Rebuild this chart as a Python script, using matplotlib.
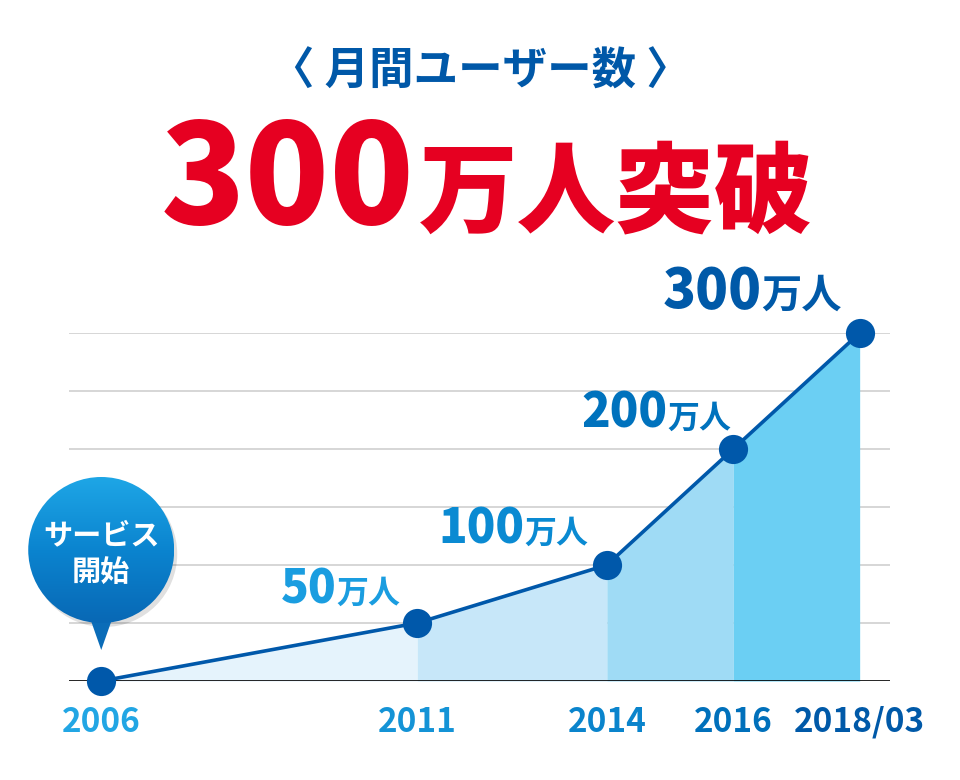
import numpy as np
import matplotlib
matplotlib.use("Agg")
import matplotlib.pyplot as plt
from matplotlib.patches import Circle, Polygon
from matplotlib.colors import LinearSegmentedColormap

plt.rcParams['font.family'] = ['Noto Sans CJK JP', 'DejaVu Sans']

# data
years = [2006, 2011, 2014, 2016, 2018]
year_labels = ["2006", "2011", "2014", "2016", "2018/03"]
users = [0, 50, 100, 200, 300]          # 万人
value_nums = ["", "50", "100", "200", "300"]

# styles
seg_colors = ["#e5f3fc", "#c7e7f9", "#9fdbf5", "#6bcff3"]
year_colors = ["#22a6e4", "#1493d6", "#0a84cc", "#0070bb", "#0059a8"]
val_colors = [None, "#1a9de0", "#0a8ad2", "#0072bd", "#0059a8"]
line_col = "#0058aa"
# label offsets (px) relative to point: split point between number and 万人, baseline
val_off = [None, (-81, 20), (-82, 22), (-66, 21), (-98, 25)]
num_size = [None, 33, 34, 34, 39]
kan_size = [None, 23, 23, 23, 29]

W, H = 960, 780
fig = plt.figure(figsize=(W / 100, H / 100), dpi=100)
ax = fig.add_axes([69 / W, 99 / H, 821 / W, 348 / H])
ax.set_xlim(2005.49, 2018.48)
ax.set_ylim(0, 300)
for s in ax.spines.values():
    s.set_visible(False)
ax.set_xticks([])
ax.set_yticks(range(50, 301, 50))
ax.tick_params(left=False, labelleft=False)
ax.grid(axis='y', color='#d6d6d6', lw=1.4)
ax.set_axisbelow(True)

for i in range(len(years) - 1):
    ax.fill_between(years[i:i + 2], 0, users[i:i + 2], color=seg_colors[i], lw=0, zorder=2)
ax.axhline(0, color='black', lw=1.2, zorder=3)
ax.plot(years, users, color=line_col, lw=2.6, zorder=4, solid_capstyle='round')
ax.plot(years, users, 'o', color=line_col, ms=21, mec='none', zorder=5, clip_on=False)

for i, (x, y) in enumerate(zip(years, users)):
    ax.annotate(year_labels[i], (x, 0), xytext=(0, -41 * 0.72), textcoords='offset points',
                ha='center', va='center', fontsize=24, fontweight='bold',
                color=year_colors[i], annotation_clip=False)
    if value_nums[i]:
        dx, dy = val_off[i]
        ax.annotate(value_nums[i], (x, y), xytext=(dx * 0.72, dy * 0.72), textcoords='offset points',
                    ha='right', va='baseline', fontsize=num_size[i], fontweight='heavy',
                    color=val_colors[i], annotation_clip=False)
        ax.annotate("万人", (x, y), xytext=(dx * 0.72, dy * 0.72), textcoords='offset points',
                    ha='left', va='baseline', fontsize=kan_size[i], fontweight='bold',
                    color=val_colors[i], annotation_clip=False)

# overlay in pixel coords
ov = fig.add_axes([0, 0, 1, 1], zorder=10)
ov.set_xlim(0, W)
ov.set_ylim(H, 0)
ov.axis('off')
ov.patch.set_visible(False)

ov.text(480, 72, "〈 月間ユーザー数 〉", ha='center', va='center', fontsize=32,
        fontweight='bold', color='#0058a8')
ov.text(415, 224, "300", ha='right', va='baseline', fontsize=100, fontweight='heavy',
        color='#e60021')
ov.text(419, 224, "万人突破", ha='left', va='baseline', fontsize=71, fontweight='heavy',
        color='#e60021')

# speech bubble anchored above the first point
fig.canvas.draw()
px, py = ax.transData.transform((years[0], users[0]))
py = H - py
cx, cy, r = px, py - 131, 73
shadow = Circle((cx + 3, cy + 4), r, color='#000000', alpha=0.12, lw=0, zorder=1)
ov.add_patch(shadow)
tri = Polygon([(cx - 13, cy + r - 10), (cx + 13, cy + r - 10), (cx, py - 31)],
              closed=True, color='#0a6cb8', lw=0, zorder=2)
ov.add_patch(tri)
circ = Circle((cx, cy), r, color='none', lw=0)
ov.add_patch(circ)
cmap = LinearSegmentedColormap.from_list('b', ['#1ea6e6', '#0b84cf', '#0868b5'])
grad = np.linspace(0, 1, 256).reshape(-1, 1)
im = ov.imshow(grad, cmap=cmap, extent=(cx - r, cx + r, cy + r, cy - r), origin='upper',
               aspect='auto', zorder=3)
im.set_clip_path(circ)
ov.set_xlim(0, W)
ov.set_ylim(H, 0)
ov.text(cx, cy - 15, "サービス", ha='center', va='center', fontsize=21, fontweight='bold',
        color='white', zorder=4)
ov.text(cx, cy + 22, "開始", ha='center', va='center', fontsize=21, fontweight='bold',
        color='white', zorder=4)

fig.savefig("out.png", dpi=100, facecolor='white')
